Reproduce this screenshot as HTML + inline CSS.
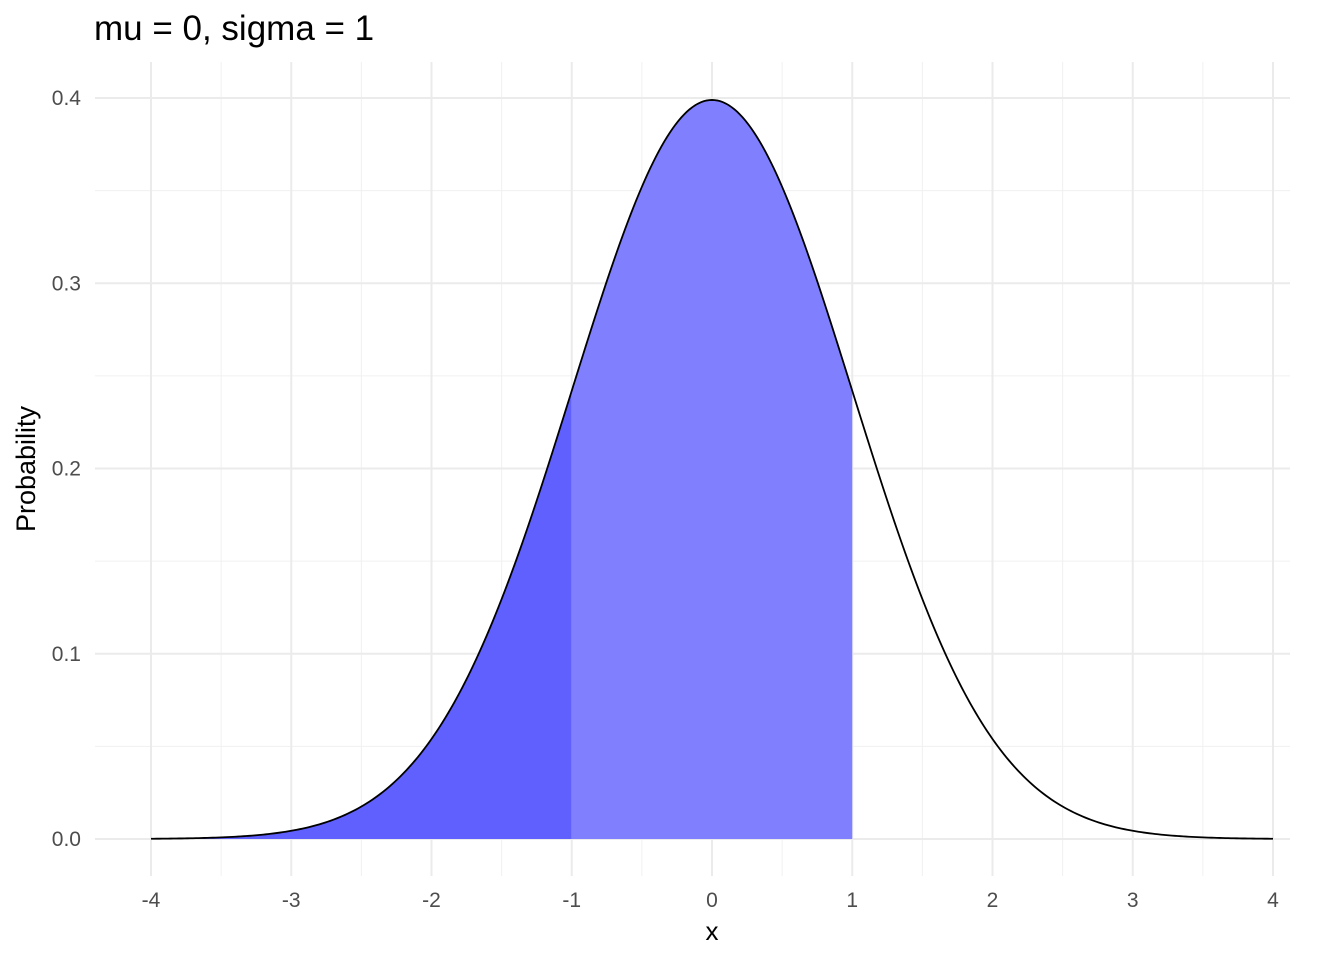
<!DOCTYPE html>
<html><head><meta charset="utf-8"><style>
body{margin:0;background:#fff;}
svg{display:block;font-family:"Liberation Sans",Arial,sans-serif;}
</style></head><body>
<svg id="chart" width="1344" height="960">
<text x="94" y="40" font-size="35" fill="#000">mu = 0, sigma = 1</text>
<g id="grid"></g>
<g id="areas"></g>
<g id="curve"></g>
<g id="ticks"></g>
<text x="712" y="940" font-size="26" text-anchor="middle" fill="#000">x</text>
<text transform="translate(35,469) rotate(-90)" font-size="27" text-anchor="middle" fill="#000">Probability</text>
</svg>
<script>
const mu = 0;
const sigma = 1;
const xTicks = [-4,-3,-2,-1,0,1,2,3,4];
const yTicks = [0.0,0.1,0.2,0.3,0.4];
const yTickLabels = ["0.0","0.1","0.2","0.3","0.4"];
const darkRange = [-4,-1];
const lightRange = [-1,1];
const xDomain = [-4,4];

const NS="http://www.w3.org/2000/svg";
const sx = v => 151 + (v - (-4)) * (1273-151)/8;
const sy = v => 839 - v * (839-98)/0.4;
const dens = x => Math.exp(-0.5*((x-mu)/sigma)**2)/(sigma*Math.sqrt(2*Math.PI));
function mk(tag, attrs, parent){const e=document.createElementNS(NS,tag);for(const k in attrs)e.setAttribute(k,attrs[k]);parent.appendChild(e);return e;}
const grid=document.getElementById('grid');
for(let i=0;i<xTicks.length-1;i++){
  const v=(xTicks[i]+xTicks[i+1])/2;
  const l=mk('line',{x1:sx(v),x2:sx(v),y1:62,y2:876,stroke:'#f0f0f0','stroke-width':1},grid);
  
  
}
for(let i=0;i<yTicks.length-1;i++){
  const v=(yTicks[i]+yTicks[i+1])/2;
  const l=mk('line',{x1:95,x2:1290,y1:sy(v),y2:sy(v),stroke:'#f0f0f0','stroke-width':1},grid);
  
  
}
const ticks=document.getElementById('ticks');
xTicks.forEach(v=>{
  const l=mk('line',{x1:sx(v),x2:sx(v),y1:62,y2:876,stroke:'#ebebeb','stroke-width':2},grid);
  
  
  const t=mk('text',{x:sx(v),y:907,'font-size':21,fill:'#4d4d4d','text-anchor':'middle'},ticks);
  t.textContent=String(v);
  
  
});
yTicks.forEach((v,i)=>{
  const l=mk('line',{x1:95,x2:1290,y1:sy(v),y2:sy(v),stroke:'#ebebeb','stroke-width':2},grid);
  
  
  const t=mk('text',{x:81,y:sy(v)+7,'font-size':21,fill:'#4d4d4d','text-anchor':'end'},ticks);
  t.textContent=yTickLabels[i];
  
  
});
function areaPath(a,b){
  let d=`M${sx(a)},${sy(0)}`;const n=200;
  for(let i=0;i<=n;i++){const x=a+(b-a)*i/n;d+=` L${sx(x)},${sy(dens(x))}`;}
  return d+` L${sx(b)},${sy(0)} Z`;
}
const areas=document.getElementById('areas');
const a1=mk('path',{d:areaPath(darkRange[0],darkRange[1]),fill:'#6060ff'},areas);


const a2=mk('path',{d:areaPath(lightRange[0],lightRange[1]),fill:'#8080ff'},areas);


let d='';const n=400;
for(let i=0;i<=n;i++){const x=xDomain[0]+(xDomain[1]-xDomain[0])*i/n;d+=(i?' L':'M')+sx(x)+','+sy(dens(x));}
const c=mk('path',{d:d,fill:'none',stroke:'#000','stroke-width':1.8},document.getElementById('curve'));


</script>
</body></html>
